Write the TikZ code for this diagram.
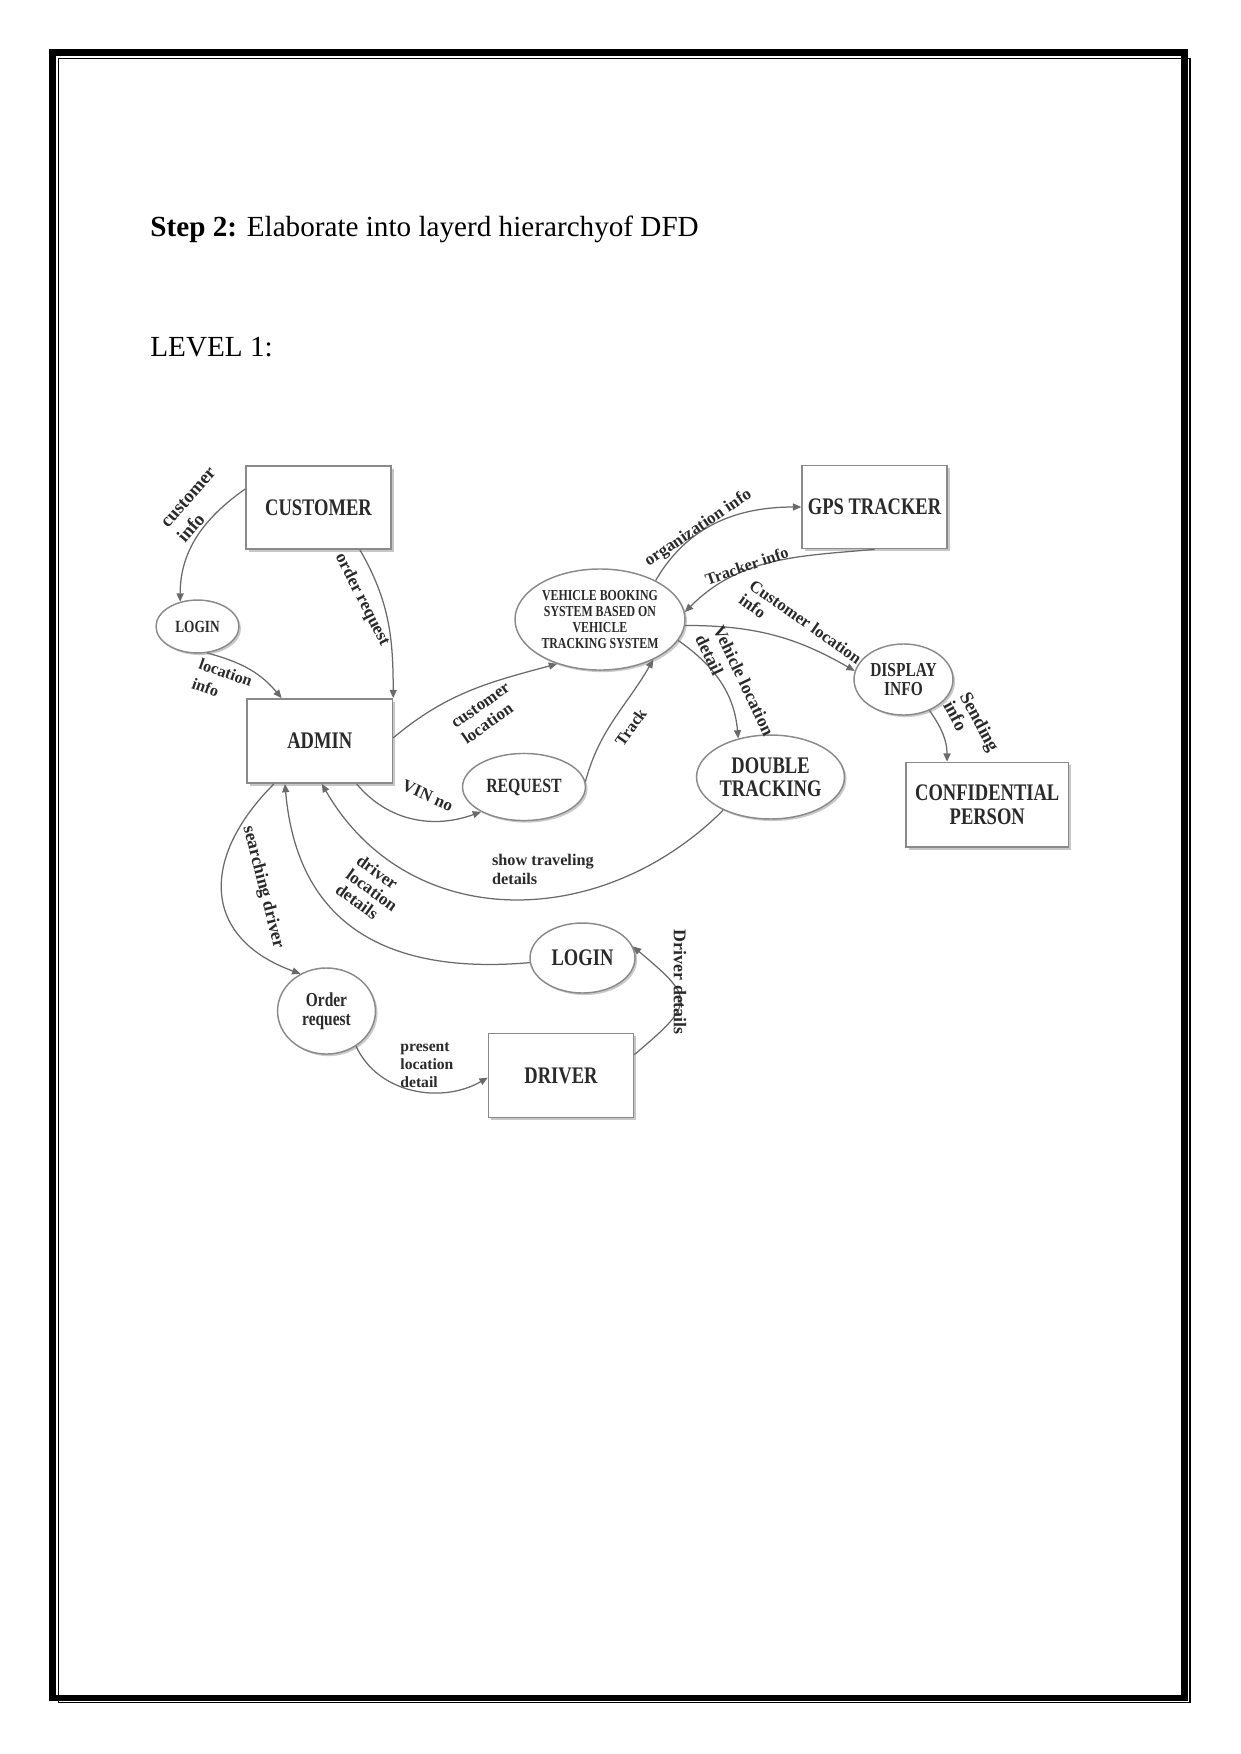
\documentclass[tikz,border=0pt]{standalone}
\usepackage{fontspec}
\setmainfont{Liberation Serif}
\newfontfamily\dfdfont[FakeStretch=0.78]{Liberation Serif}
\usepackage{tikz}
\usepackage{xcolor}
\usetikzlibrary{shapes.geometric, arrows.meta, shadows}
\definecolor{clrLine}{HTML}{6A6A6A}
\definecolor{clrBorder}{HTML}{8A8A8A}
\definecolor{clrText}{HTML}{2A2A2A}
\definecolor{clrShadow}{HTML}{BDBDBD}

\begin{document}
\begin{tikzpicture}[
    x=0.48pt, y=-0.48pt,
    entity/.style={rectangle, draw=clrBorder, fill=white, line width=0.7pt, minimum width=69.6pt, minimum height=40pt, inner sep=0pt, align=center, text=clrText, font=\dfdfont\bfseries\fontsize{11.4}{11.9}\selectfont, drop shadow={shadow xshift=1.3pt, shadow yshift=-1.3pt, fill=clrShadow, opacity=0.85}},
    process/.style={ellipse, draw=clrBorder, fill=white, line width=0.7pt, inner sep=0pt, align=center, text=clrText, drop shadow={shadow xshift=1pt, shadow yshift=-1pt, fill=clrShadow, opacity=0.8}},
    arrow/.style={-{Triangle[length=4pt, width=3.4pt]}, line width=0.6pt, clrLine},
    lbl/.style={inner sep=0pt, align=left, text=clrText, font=\bfseries\fontsize{8.2}{9.6}\selectfont},
    heading/.style={anchor=base west, inner sep=0pt, font=\fontsize{14}{16}\selectfont},
]
\useasboundingbox (0,0) rectangle (1241,1754);

% Page frame
\draw[line width=2.9pt] (52.5,52.5) rectangle (1184.5,1698);
\draw[line width=0.6pt] (58.2,58.2) rectangle (1190,1702.7);

% Headings
\node[heading] (title) at (150,236) {\textbf{Step 2:} Elaborate into layerd hierarchyof DFD};
\node[heading] (level) at (150,356) {LEVEL 1:};

% External entities
\node[entity] (customer) at (318.5,507.5) {CUSTOMER};
\node[entity] (gps) at (874.5,507) {GPS TRACKER};
\node[entity, minimum width=69.8pt, minimum height=40.5pt] (admin) at (319.75,741) {ADMIN};
\node[entity, minimum width=78pt, minimum height=40.6pt] (conf) at (987.25,804.75) {CONFIDENTIAL\\PERSON};
\node[entity, minimum height=40.3pt] (driver) at (561,1075.5) {DRIVER};

% Processes
\node[process, minimum width=39.8pt, minimum height=25.4pt, font=\dfdfont\bfseries\fontsize{8.2}{9}\selectfont] (login1) at (197.5,626.5) {LOGIN};
\node[process, minimum width=81.6pt, minimum height=48.5pt, font=\dfdfont\bfseries\fontsize{7.3}{7.7}\selectfont] (vehicle) at (600,619.5) {VEHICLE BOOKING\\SYSTEM BASED ON\\VEHICLE\\TRACKING SYSTEM};
\node[process, minimum width=47.5pt, minimum height=34.1pt, font=\dfdfont\bfseries\fontsize{9.5}{8.8}\selectfont] (display) at (903.5,679.5) {DISPLAY\\INFO};
\node[process, minimum width=59pt, minimum height=32.2pt, font=\dfdfont\bfseries\fontsize{9.7}{10}\selectfont] (request) at (524,787) {REQUEST};
\node[process, minimum width=71pt, minimum height=40.3pt, font=\dfdfont\bfseries\fontsize{11.4}{10.9}\selectfont] (double) at (770.5,777) {DOUBLE\\TRACKING};
\node[process, minimum width=50.4pt, minimum height=33.6pt, font=\dfdfont\bfseries\fontsize{11.4}{12}\selectfont] (login2) at (582.5,958) {LOGIN};
\node[process, minimum width=47pt, minimum height=41.3pt, font=\dfdfont\bfseries\fontsize{9.5}{9.3}\selectfont] (order) at (326.5,1011) {Order\\request};

% Data flows
\draw[arrow] ([yshift=8.9pt]customer.west) to[out=215, in=90] (login1.125);
\draw[arrow] ([xshift=19.9pt]customer.south) to[out=-60, in=90] (admin.north east);
\draw[arrow] (login1.-70) to[out=-15, in=130] ([xshift=-18.3pt]admin.north);
\draw[arrow] ([yshift=1.5pt]admin.east) to[out=40, in=195] (vehicle.226);
\draw[arrow] ([xshift=17.7pt]admin.south) to[out=-50, in=200] (request.210);
\draw[arrow] (request.5) to[out=75, in=240] (vehicle.-37);
\draw[arrow] (vehicle.35) to[out=60, in=180] (gps.west);
\draw[arrow] (gps.south) to[out=185, in=45] (vehicle.5);
\draw[arrow] (vehicle.-4) to[out=0, in=150] (display.170);
\draw[arrow] (vehicle.-15) to[out=-35, in=95] (double.130);
\draw[arrow] (display.-50) to[out=-55, in=90] ([xshift=-19.3pt]conf.north);
\draw[arrow] (double.215) to[out=225, in=-60, looseness=1.1] ([xshift=1pt]admin.south);
\draw[arrow] (login2.185) to[out=185, in=-85, looseness=1.2] ([xshift=-16.7pt]admin.south);
\draw[arrow] ([xshift=-22pt]admin.south) to[out=225, in=160, looseness=1.4] (order.125);
\draw[arrow] (order.-50) to[out=-65, in=210] ([yshift=-1pt]driver.west);
\draw[arrow] ([yshift=10pt]driver.east) to[out=40, in=-40, looseness=1.9] (login2.13);

% Flow labels
\node[lbl, rotate=49, font=\bfseries\fontsize{9}{10.8}\selectfont] (lCustInfo) at (197,505) {customer\\info};
\node[lbl, rotate=-63, font=\bfseries\fontsize{8.4}{10}\selectfont] (lOrderReq) at (362,600) {order request};
\node[lbl, rotate=-19.5, font=\bfseries\fontsize{7.8}{10}\selectfont] (lLocInfo) at (222.2,682.3) {location\\info};
\node[lbl, rotate=35, font=\bfseries\fontsize{8.2}{9.3}\selectfont] (lCustLoc) at (486.2,713.6) {customer\\location};
\node[lbl, rotate=-24] (lVin) at (427.7,795.7) {VIN no};
\node[lbl, rotate=54.5, font=\bfseries\fontsize{7.9}{9}\selectfont] (lTrack) at (630.7,727.3) {Track};
\node[lbl, rotate=34] (lOrgInfo) at (698.3,528.3) {organization info};
\node[lbl, rotate=19, font=\bfseries\fontsize{7.8}{9}\selectfont] (lTrkInfo) at (746.7,565.7) {Tracker info};
\node[lbl, rotate=-35.3, font=\bfseries\fontsize{8.1}{8.6}\selectfont] (lCustLocInfo) at (800.5,629) {Customer location\\info};
\node[lbl, rotate=-64.5, font=\bfseries\fontsize{8.5}{9.6}\selectfont] (lVehLoc) at (735,685) {Vehicle location\\detail};
\node[lbl, rotate=-62, font=\bfseries\fontsize{8.9}{9}\selectfont] (lSending) at (971.7,726.1) {Sending\\info};
\node[lbl, anchor=west, font=\bfseries\fontsize{7.8}{9.1}\selectfont] (lShowTrav) at (491.7,869.5) {show traveling\\details};
\node[lbl, rotate=-36, font=\bfseries\fontsize{8.3}{8.6}\selectfont] (lDrvLoc) at (372,890) {driver\\location\\details};
\node[lbl, rotate=-75.8, font=\bfseries\fontsize{8.6}{9}\selectfont] (lSearch) at (263,887.3) {searching driver};
\node[lbl, anchor=west, font=\bfseries\fontsize{7.5}{8.8}\selectfont] (lPresent) at (400,1065) {present\\location\\detail};
\node[lbl, rotate=-90, font=\bfseries\fontsize{8.6}{9}\selectfont] (lDrvDet) at (680,982.3) {Driver details};

\end{tikzpicture}
\end{document}
